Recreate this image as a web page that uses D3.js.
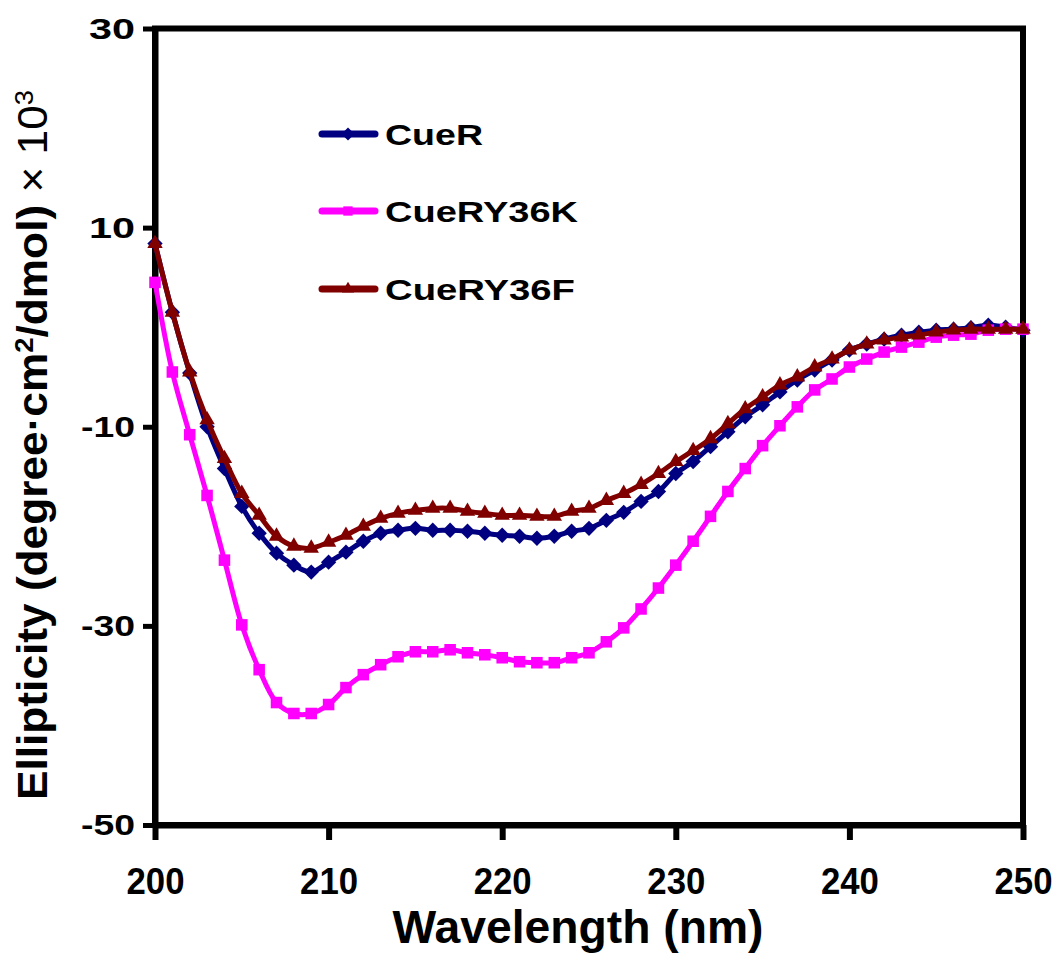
<!DOCTYPE html>
<html>
<head>
<meta charset="utf-8">
<script src="https://cdn.jsdelivr.net/npm/d3@7"></script>
<style>
  body { margin: 0; background: #fff; }
  text { font-family: Arial, 'Liberation Sans', sans-serif; }
</style>
</head>
<body>
<div id="chart"></div>
<script>
const wavelengths = d3.range(200, 251)
const cueR = [
  8.4, 1.5, -4.6, -10.0, -14.2, -18.0, -20.7, -22.7, -23.9, -24.6,
  -23.6, -22.6, -21.5, -20.7, -20.4, -20.2, -20.4, -20.4, -20.5, -20.7,
  -20.9, -21.0, -21.2, -21.0, -20.5, -20.2, -19.4, -18.6, -17.5, -16.5,
  -14.7, -13.5, -12.0, -10.5, -9.0, -7.8, -6.5, -5.3, -4.3, -3.3,
  -2.3, -1.7, -1.2, -0.8, -0.5, -0.3, -0.2, -0.05, 0.2, 0.0,
  -0.3,
]
const cueRY36K = [
  4.5, -4.5, -10.8, -16.9, -23.4, -29.9, -34.4, -37.7, -38.8, -38.8,
  -37.9, -36.2, -34.9, -33.9, -33.1, -32.6, -32.6, -32.4, -32.7, -32.9,
  -33.2, -33.6, -33.7, -33.7, -33.2, -32.7, -31.6, -30.2, -28.3, -26.2,
  -23.9, -21.5, -19.0, -16.5, -14.2, -11.9, -9.9, -8.0, -6.3, -5.2,
  -4.0, -3.2, -2.5, -2.0, -1.5, -1.0, -0.8, -0.7, -0.3, -0.2,
  -0.2,
]
const cueRY36F = [
  8.4, 1.5, -4.5, -9.3, -13.2, -16.7, -18.9, -21.0, -22.0, -22.2,
  -21.6, -20.9, -20.0, -19.2, -18.7, -18.4, -18.2, -18.2, -18.5, -18.7,
  -18.9, -18.9, -19.0, -19.0, -18.5, -18.2, -17.4, -16.7, -15.8, -14.7,
  -13.5, -12.4, -11.2, -9.7, -8.2, -7.0, -5.8, -5.0, -4.0, -3.2,
  -2.3, -1.7, -1.3, -1.0, -0.8, -0.5, -0.3, -0.2, -0.2, -0.2,
  -0.2,
]
const seriesNames = ['CueR', 'CueRY36K', 'CueRY36F']
const seriesColors = ['#000080', '#ff00ff', '#800000']
const seriesSymbols = [d3.symbolDiamond2, d3.symbolSquare2, d3.symbolTriangle2]
const xTicks = [200, 210, 220, 230, 240, 250]
const yTicks = [30, 10, -10, -30, -50]

const width = 1060
const height = 959
const plot = { left: 155, right: 1023, top: 28.5, bottom: 825 }

const svg = d3.select('#chart').append('svg')
  .attr('width', width)
  .attr('height', height)

const xScale = d3.scaleLinear().domain([200, 250]).range([plot.left, plot.right])
const yScale = d3.scaleLinear().domain([-50, 30]).range([plot.bottom, plot.top])

// frame
svg.append('rect')
  .attr('x', plot.left)
  .attr('y', plot.top)
  .attr('width', plot.right - plot.left)
  .attr('height', plot.bottom - plot.top)
  .attr('fill', 'none')
  .attr('stroke', '#000')
  .attr('stroke-width', 6)

// axes
const xAxis = svg.append('g')
  .attr('transform', `translate(0, ${plot.bottom})`)
  .call(d3.axisBottom(xScale).tickValues(xTicks).tickSize(15).tickPadding(28).tickSizeOuter(0))
xAxis.select('.domain').attr('stroke-width', 6)
xAxis.selectAll('.tick line').attr('stroke-width', 6)
xAxis.selectAll('.tick text')
  .attr('font-size', 37)
  .attr('font-weight', 'bold')
  .attr('fill', '#000')
  .attr('dy', '0.71em')
  .attr('textLength', 58)
  .attr('lengthAdjust', 'spacingAndGlyphs')

const yAxis = svg.append('g')
  .attr('transform', `translate(${plot.left}, 0)`)
  .call(d3.axisLeft(yScale).tickValues(yTicks).tickFormat((d) => String(d))
    .tickSize(12).tickPadding(8).tickSizeOuter(0))
yAxis.select('.domain').attr('stroke-width', 6)
yAxis.selectAll('.tick line').attr('stroke-width', 5)
yAxis.selectAll('.tick text')
  .attr('font-size', 30)
  .attr('font-weight', 'bold')
  .attr('fill', '#000')
  .attr('textLength', (d) => (d < 0 ? 54 : 46))
  .attr('lengthAdjust', 'spacingAndGlyphs')

// axis titles
svg.append('text')
  .attr('x', 578)
  .attr('y', 943)
  .attr('text-anchor', 'middle')
  .attr('font-size', 46)
  .attr('font-weight', 'bold')
  .attr('textLength', 371)
  .attr('lengthAdjust', 'spacingAndGlyphs')
  .text('Wavelength (nm)')

const yTitle = svg.append('text')
  .attr('transform', 'translate(47, 445) rotate(-90)')
  .attr('text-anchor', 'middle')
  .attr('font-size', 42)
  .attr('font-weight', 'bold')
  .attr('textLength', 710)
  .attr('lengthAdjust', 'spacingAndGlyphs')
yTitle.append('tspan').text('Ellipticity (degree·cm')
yTitle.append('tspan').attr('font-size', 26).attr('dy', -14).text('2')
yTitle.append('tspan').attr('dy', 14).text('/dmol) ')
yTitle.append('tspan').attr('font-weight', 'normal').text('× 10')
yTitle.append('tspan').attr('font-weight', 'normal').attr('font-size', 26).attr('dy', -14).text('3')

// series
const allSeries = [cueR, cueRY36K, cueRY36F]
const line = d3.line()
  .x((d, i) => xScale(wavelengths[i]))
  .y((d) => yScale(d))
  .curve(d3.curveCatmullRom)

const symbolSizes = [150, 170, 170]

allSeries.forEach((values, k) => {
  const g = svg.append('g')
  g.append('path')
    .datum(values)
    .attr('fill', 'none')
    .attr('stroke', seriesColors[k])
    .attr('stroke-width', 5)
    .attr('d', line)
  g.selectAll('path.marker')
    .data(values)
    .join('path')
    .attr('class', 'marker')
    .attr('transform', (d, i) => `translate(${xScale(wavelengths[i])}, ${yScale(d)})`)
    .attr('d', d3.symbol().type(seriesSymbols[k]).size(symbolSizes[k]))
    .attr('fill', seriesColors[k])
})

// legend
const legendY = [134, 211, 289]
const legendWidths = [98, 193, 190]
seriesNames.forEach((name, k) => {
  const g = svg.append('g').attr('transform', `translate(0, ${legendY[k]})`)
  g.append('line')
    .attr('x1', 322).attr('x2', 375)
    .attr('stroke', seriesColors[k])
    .attr('stroke-width', 7)
    .attr('stroke-linecap', 'round')
  g.append('path')
    .attr('transform', 'translate(348, 0)')
    .attr('d', d3.symbol().type(seriesSymbols[k]).size(110))
    .attr('fill', seriesColors[k])
  g.append('text')
    .attr('x', 385)
    .attr('y', 11)
    .attr('font-size', 30)
    .attr('font-weight', 'bold')
    .attr('textLength', legendWidths[k])
    .attr('lengthAdjust', 'spacingAndGlyphs')
    .text(name)
})
</script>
</body>
</html>
